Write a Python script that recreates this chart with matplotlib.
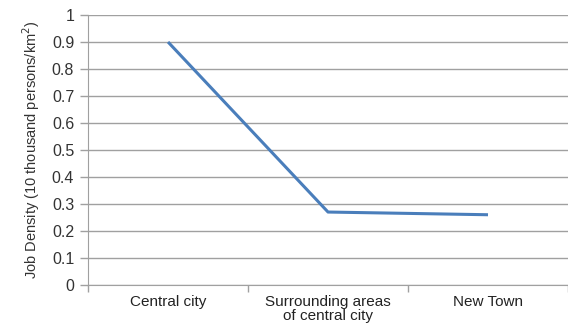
import numpy as np
import matplotlib.pyplot as plt

categories = ["Central city", "Surrounding areas\nof central city", "New Town"]
density = [0.9, 0.27, 0.26]
yticks = [0, 0.1, 0.2, 0.3, 0.4, 0.5, 0.6, 0.7, 0.8, 0.9, 1]
ytick_labels = ["0", "0.1", "0.2", "0.3", "0.4", "0.5", "0.6", "0.7", "0.8", "0.9", "1"]

plt.rcParams['font.family'] = ['Liberation Sans', 'DejaVu Sans']

fig = plt.figure(figsize=(5.68, 3.26), dpi=100)
ax = fig.add_axes([0.155, 0.126, 0.845, 0.828])

x = np.arange(len(categories))
ax.plot(x, density, color='#4a7ebb', linewidth=2.2, solid_capstyle='butt')

ax.set_xlim(-0.5, len(categories) - 0.5)
ax.set_ylim(0, 1)
ax.set_yticks(yticks)
ax.set_yticklabels(ytick_labels, fontsize=11.5, color='#333333')
ax.yaxis.grid(True, color='#a0a0a0', linewidth=1)
ax.set_axisbelow(True)

# category labels centered, ticks on boundaries
ax.set_xticks(x)
ax.set_xticklabels(categories, fontsize=11, color='#222222', linespacing=1.0)
ax.tick_params(axis='x', length=0, pad=7)
ax.set_xticks(np.arange(-0.5, len(categories)), minor=True)
ax.tick_params(axis='x', which='minor', length=5, color='#a0a0a0', width=1)
ax.tick_params(axis='y', length=6, color='#a0a0a0', width=1, pad=4)

for s in ['top', 'right']:
    ax.spines[s].set_visible(False)
for s in ['left', 'bottom']:
    ax.spines[s].set_color('#a0a0a0')

ax.set_ylabel('Job Density (10 thousand persons/km$^2$)', fontsize=10.5, color='#333333', labelpad=7)

fig.savefig('out.png', dpi=100)
